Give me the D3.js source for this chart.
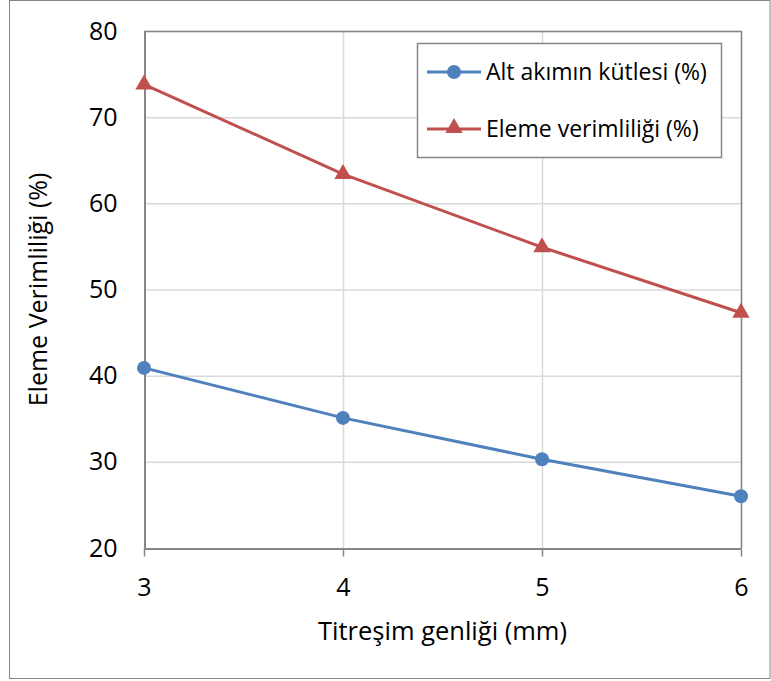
<!DOCTYPE html>
<html lang="tr">
<head>
    <meta charset="UTF-8" />
    <title>Titreşim genliği</title>
    <script src="https://d3js.org/d3.v7.min.js"></script>
    <style>
        body { margin: 0; background: #fff; }
        text { font-family: "Open Sans", "Noto Sans", sans-serif; fill: #000; }
    </style>
</head>
<body>
    <div id="chart"></div>
    <script>
        // data
        const amplitudes = [3, 4, 5, 6]
        const altAkim = [40.9, 35.1, 30.3, 26.0]
        const elemeVerim = [73.8, 63.4, 54.9, 47.3]
        const yTicks = [20, 30, 40, 50, 60, 70, 80]
        const seriesNames = ["Alt akımın kütlesi (%)", "Eleme verimliliği (%)"]

        const width = 771
        const height = 681
        const margin = { top: 31, right: 30, bottom: 133, left: 144 }

        const svg = d3.select("#chart").append("svg")
            .attr("width", width)
            .attr("height", height)

        // outer frame
        svg.append("rect")
            .attr("x", 9.5).attr("y", 0.5)
            .attr("width", width - 10.5).attr("height", 678)
            .attr("fill", "none").attr("stroke", "#868686")

        const x = d3.scaleLinear()
            .domain([3, 6])
            .range([margin.left, width - margin.right])

        const y = d3.scaleLinear()
            .domain([20, 80])
            .range([height - margin.bottom, margin.top])

        // grid
        svg.append("g")
            .selectAll("line")
            .data(yTicks.slice(1))
            .join("line")
            .attr("x1", margin.left).attr("x2", width - margin.right)
            .attr("y1", d => y(d) + 0.5).attr("y2", d => y(d) + 0.5)
            .attr("stroke", "#d9d9d9").attr("stroke-width", 1.5)

        svg.append("g")
            .selectAll("line")
            .data(amplitudes.slice(1))
            .join("line")
            .attr("x1", d => x(d) + 0.5).attr("x2", d => x(d) + 0.5)
            .attr("y1", margin.top).attr("y2", y(20))
            .attr("stroke", "#d9d9d9").attr("stroke-width", 1.5)

        // plot box (top/right)
        svg.append("path")
            .attr("d", `M${margin.left},${y(80) + 0.5}H${x(6) + 0.5}V${y(20)}`)
            .attr("fill", "none").attr("stroke", "#868686").attr("stroke-width", 1.5)

        // axes
        const xAxis = svg.append("g")
            .attr("transform", `translate(0,${y(20) + 0.5})`)
            .call(d3.axisBottom(x).tickValues(amplitudes).tickFormat(d3.format("d")).tickSize(8).tickSizeOuter(0).tickPadding(22))
        xAxis.select(".domain").attr("stroke", "#868686").attr("stroke-width", 2)
        xAxis.selectAll(".tick line").attr("stroke", "#868686").attr("stroke-width", 1.5)
        xAxis.selectAll("text").attr("font-size", 25).attr("font-family", "Open Sans, sans-serif").attr("fill", "#000")

        const yAxis = svg.append("g")
            .attr("transform", `translate(${margin.left + 0.5},0)`)
            .call(d3.axisLeft(y).tickValues(yTicks).tickSize(0).tickPadding(27))
        yAxis.select(".domain").attr("stroke", "#868686").attr("stroke-width", 2)
        yAxis.selectAll("text").attr("font-size", 25).attr("font-family", "Open Sans, sans-serif").attr("fill", "#000")

        // axis titles
        svg.append("text")
            .attr("x", (x(3) + x(6)) / 2)
            .attr("y", 640)
            .attr("text-anchor", "middle")
            .attr("font-size", 25.5)
            .text("Titreşim genliği (mm)")

        svg.append("text")
            .attr("transform", `translate(47,${(y(20) + y(80)) / 2}) rotate(-90)`)
            .attr("text-anchor", "middle")
            .attr("font-size", 25)
            .text("Eleme Verimliliği (%)")

        const line = d3.line()
            .x((d, i) => x(amplitudes[i]))
            .y(d => y(d))

        const blue = "#4f81bd"
        const red = "#c0504d"

        svg.append("path")
            .datum(altAkim)
            .attr("d", line)
            .attr("fill", "none").attr("stroke", blue).attr("stroke-width", 3)

        svg.append("path")
            .datum(elemeVerim)
            .attr("d", line)
            .attr("fill", "none").attr("stroke", red).attr("stroke-width", 3)

        svg.append("g")
            .selectAll("circle")
            .data(altAkim)
            .join("circle")
            .attr("cx", (d, i) => x(amplitudes[i]))
            .attr("cy", d => y(d))
            .attr("r", 7)
            .attr("fill", blue)

        const tri = d3.symbol().type(d3.symbolTriangle).size(130)
        svg.append("g")
            .selectAll("path")
            .data(elemeVerim)
            .join("path")
            .attr("transform", (d, i) => `translate(${x(amplitudes[i])},${y(d)})`)
            .attr("d", tri())
            .attr("fill", red)

        // legend
        const legend = svg.append("g")
        legend.append("rect")
            .attr("x", 417.5).attr("y", 43.5)
            .attr("width", 304).attr("height", 114)
            .attr("fill", "#fff").attr("stroke", "#868686").attr("stroke-width", 1.5)

        const legendRows = [
            { name: seriesNames[0], color: blue, y: 72, shape: "circle" },
            { name: seriesNames[1], color: red, y: 129, shape: "triangle" }
        ]
        legendRows.forEach(r => {
            legend.append("line")
                .attr("x1", 427).attr("x2", 481)
                .attr("y1", r.y).attr("y2", r.y)
                .attr("stroke", r.color).attr("stroke-width", 3)
            if (r.shape === "circle") {
                legend.append("circle").attr("cx", 454).attr("cy", r.y).attr("r", 7).attr("fill", r.color)
            } else {
                legend.append("path").attr("transform", `translate(454,${r.y - 1})`).attr("d", tri()).attr("fill", r.color)
            }
            legend.append("text")
                .attr("x", 486).attr("y", r.y)
                .attr("dy", "0.35em")
                .attr("font-size", 23)
                .text(r.name)
        })
    </script>
</body>
</html>
